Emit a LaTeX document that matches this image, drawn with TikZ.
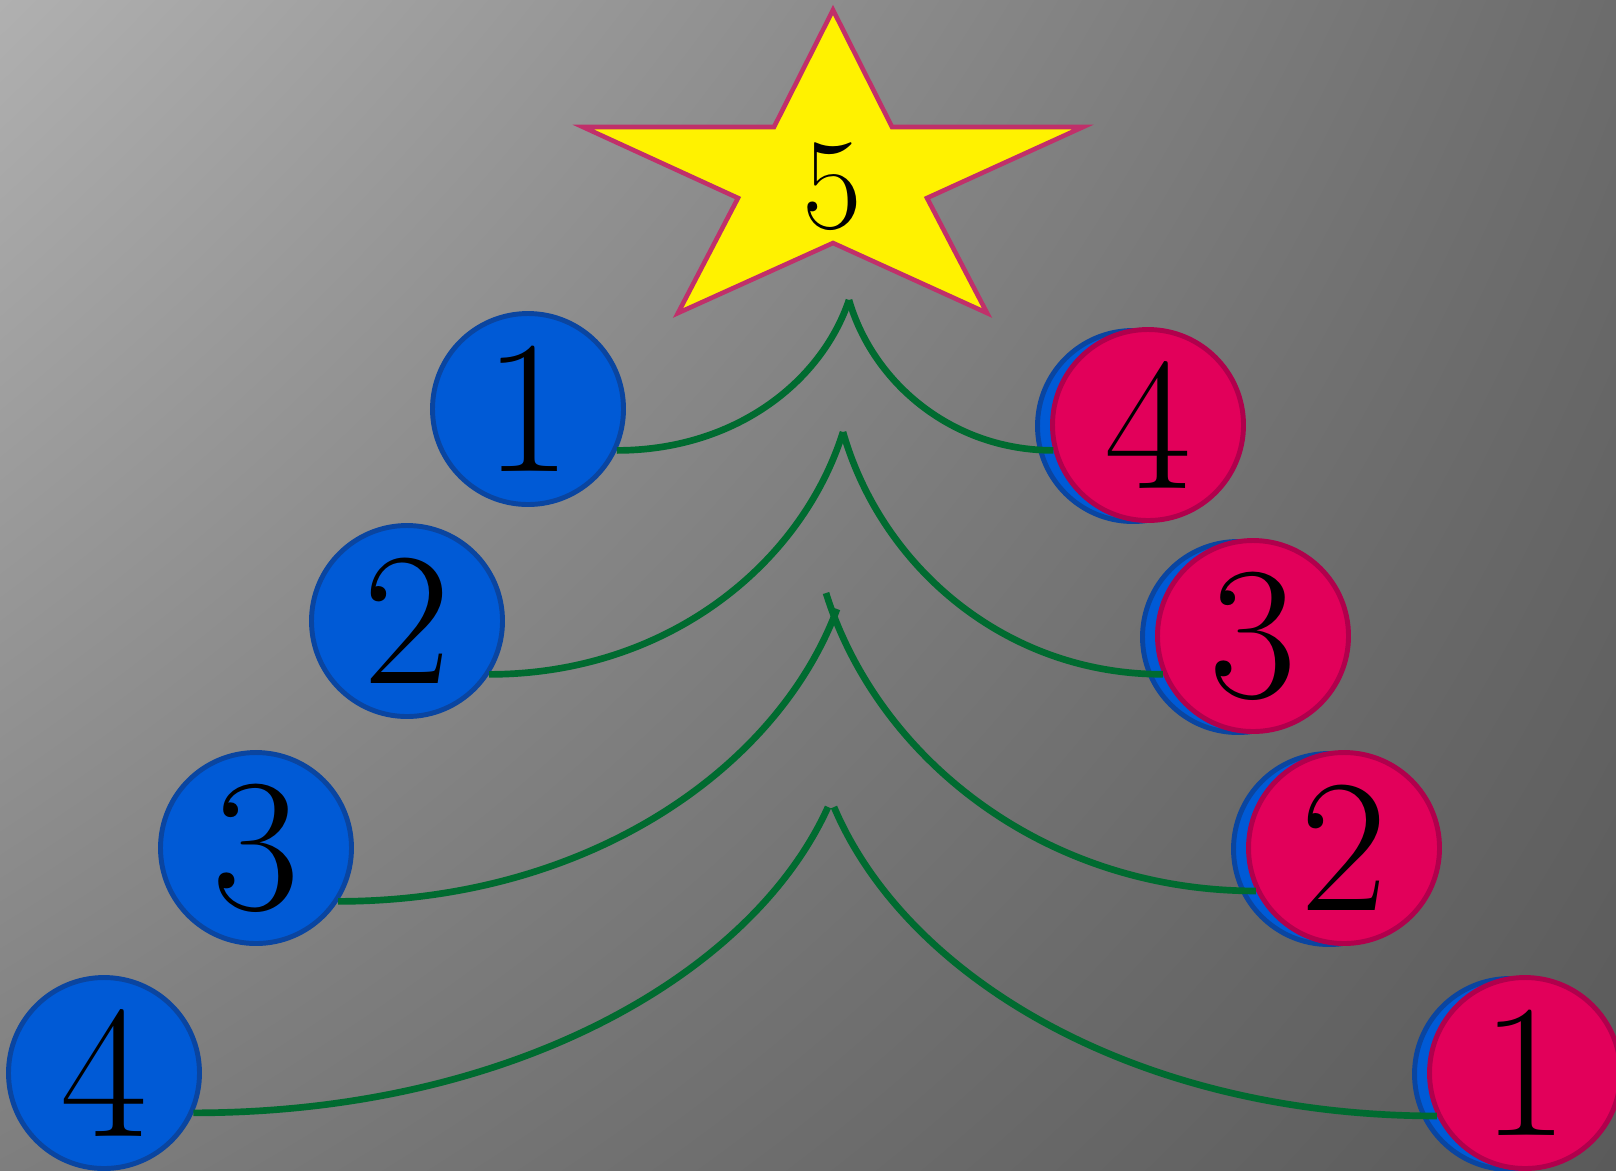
\documentclass[tikz,border=0pt]{standalone}
\usepackage{tikz}
\usetikzlibrary{positioning, shadings}
\usepackage{xcolor}

\definecolor{ballblue}{HTML}{005AD6}
\definecolor{ballblueline}{HTML}{0A45A0}
\definecolor{ballred}{HTML}{E2005A}
\definecolor{ballredline}{HTML}{B0004C}
\definecolor{garland}{HTML}{006B30}
\definecolor{starline}{HTML}{C0306A}
\definecolor{bgtl}{HTML}{B0B0B0}
\definecolor{bgtr}{HTML}{6C6C6C}
\definecolor{bgbl}{HTML}{7E7E7E}
\definecolor{bgbr}{HTML}{5A5A5A}

\begin{document}
\begin{tikzpicture}[x=0.1mm, y=-0.1mm,
    ball/.style={circle, draw, line width=1.4pt, inner sep=0pt, minimum size=19.1mm,
                 font=\fontsize{54}{54}\selectfont},
    blueball/.style={ball, fill=ballblue, draw=ballblueline},
    redball/.style={ball, fill=ballred, draw=ballredline},
    branch/.style={draw=garland, line width=1.9pt}]

        % Background
        \shade[upper left=bgtl, upper right=bgtr, lower left=bgbl, lower right=bgbr]
            (0,0) rectangle (1616,1170);
        \useasboundingbox (0,0) rectangle (1616,1170);

        % Star
        \draw[starline, fill=yellow, line width=1.3pt, line join=miter]
            (833,10) -- (892,127) -- (1083,127) -- (927,198) -- (987,313) -- (833,243)
            -- (678,313) -- (738,198) -- (583,127) -- (774,127) -- cycle;
        \node[font=\fontsize{37}{37}\selectfont] (top) at (832,187) {5};

        % Left balls
        \node[blueball] (b1) at (528,409)  {1};
        \node[blueball] (b2) at (407,621)  {2};
        \node[blueball] (b3) at (256,848)  {3};
        \node[blueball] (b4) at (104,1073) {4};

        % Right balls (blue one behind each red one)
        \node[blueball] (s4) at (1133,426)  {};
        \node[blueball] (s3) at (1238,637)  {};
        \node[blueball] (s2) at (1329,849)  {};
        \node[blueball] (s1) at (1510,1074) {};
        \node[redball]  (r4) at (1148,425)  {4};
        \node[redball]  (r3) at (1253,636)  {3};
        \node[redball]  (r2) at (1344,848)  {2};
        \node[redball]  (r1) at (1525,1073) {1};

        % Tips of the branches
        \coordinate (t1)  at (849,300);
        \coordinate (t2)  at (843,432);
        \coordinate (t3l) at (837,609);
        \coordinate (t3r) at (826,593);
        \coordinate (t4l) at (828,807);
        \coordinate (t4r) at (834,807);

        % Branches
        \draw[branch] (t1)  .. controls +(-28,83)  and +(117,0)  .. (b1.-25);
        \draw[branch] (t1)  .. controls +(24,83)   and +(-101,0) .. (r4.195);
        \draw[branch] (t2)  .. controls +(-42,134) and +(176,0)  .. (b2.-33);
        \draw[branch] (t2)  .. controls +(38,134)  and +(-158,0) .. (r3.203);
        \draw[branch] (t3l) .. controls +(-60,161) and +(248,0)  .. (b3.-33);
        \draw[branch] (t3r) .. controls +(51,164)  and +(-213,0) .. (r2.206);
        \draw[branch] (t4l) .. controls +(-76,168) and +(317,0)  .. (b4.-24);
        \draw[branch] (t4r) .. controls +(72,170)  and +(-302,0) .. (r1.206);
    \end{tikzpicture}
\end{document}
